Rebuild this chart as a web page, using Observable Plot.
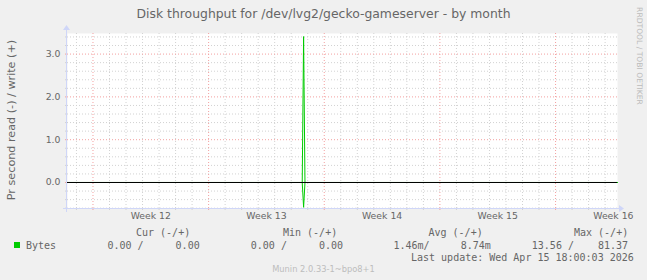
<!DOCTYPE html>
<html>
<head>
<meta charset="utf-8">
<script src="https://cdn.jsdelivr.net/npm/d3@7"></script>
<script src="https://cdn.jsdelivr.net/npm/@observablehq/plot@0.6"></script>
<style>
  html, body { margin: 0; padding: 0; background: #f0f0f0; }
  #wrap { position: relative; width: 647px; height: 280px; overflow: hidden; background: #f0f0f0; }
  #chart { position: absolute; left: 0; top: 0; }
  .t { position: absolute; white-space: pre; color: #666; }
  .mono { font-family: "DejaVu Sans Mono", monospace; font-size: 10px; line-height: 12px; }
</style>
</head>
<body>
<div id="wrap">
  <div id="chart"></div>
</div>
<script>
// ---- data ----
const titleText = "Disk throughput for /dev/lvg2/gecko-gameserver - by month";
const yLabel = "Pr second read (-) / write (+)";
const sideText = "RRDTOOL / TOBI OETIKER";
const footerText = "Munin 2.0.33-1~bpo8+1";
const lastUpdate = "Last update: Wed Apr 15 18:00:03 2026";

const domainTimes = ["2026-03-13T11:00:00Z", "2026-04-15T18:00:00Z"];
const yDomain = [-0.6075, 3.481];
const sampleTimes = ["2026-03-13T11:00:00Z", "2026-03-27T16:00:00Z", "2026-03-27T18:00:00Z", "2026-03-27T20:00:00Z", "2026-04-15T18:00:00Z"];
const writeValues = [0, 0, 3.41, 0, 0];
const readValues  = [0, 0, 0.58, 0, 0];

const weekLabelTimes = ["2026-03-18T12:00:00Z", "2026-03-25T12:00:00Z", "2026-04-01T12:00:00Z", "2026-04-08T12:00:00Z", "2026-04-15T12:00:00Z"];
const weekLabels = ["Week 12", "Week 13", "Week 14", "Week 15", "Week 16"];
const yMajorTicks = [0, 1, 2, 3];
const yMinorTicks = [-0.6, -0.4, -0.2, 0.2, 0.4, 0.6, 0.8, 1.2, 1.4, 1.6, 1.8, 2.2, 2.4, 2.6, 2.8, 3.2, 3.4];

const legendName = "Bytes";
const legendHeaders = ["Cur (-/+)", "Min (-/+)", "Avg (-/+)", "Max (-/+)"];
const legendValues = ["0.00 /", "0.00", "0.00 /", "0.00", "1.46m/", "8.74m", "13.56 /", "81.37"];
const lineColor = "#00cc00";

// ---- build ----
const P = (s) => new Date(s);
const rows = sampleTimes.map((t, i) => ({ t: P(t), w: writeValues[i], r: -readValues[i] }));
const xDomain = domainTimes.map(P);
const dayTicks = d3.utcDay.range(xDomain[0], xDomain[1]).filter(d => d.getUTCDay() !== 0);
const weekTicks = d3.utcSunday.range(xDomain[0], xDomain[1]);

const mL = 67, mR = 30, mT = 33, mB = 72, W = 647, H = 280;
const gridColor = "#d2d2d2";
const mgridColor = "#f3a0a0";

const chart = Plot.plot({
  width: W, height: H,
  marginLeft: mL, marginRight: mR, marginTop: mT, marginBottom: mB,
  style: { background: "transparent", fontFamily: "DejaVu Sans", fontSize: "9.3px", color: "#666" },
  x: { type: "utc", domain: xDomain },
  y: { domain: yDomain },
  marks: [
    Plot.frame({ fill: "white", stroke: null }),
    Plot.gridY({ ticks: yMinorTicks, stroke: gridColor, strokeOpacity: 1, strokeDasharray: "1,2" }),
    Plot.gridX({ ticks: dayTicks, stroke: gridColor, strokeOpacity: 1, strokeDasharray: "1,2" }),
    Plot.gridY({ ticks: yMajorTicks, stroke: mgridColor, strokeOpacity: 1, strokeDasharray: "1,2" }),
    Plot.gridX({ ticks: weekTicks, stroke: mgridColor, strokeOpacity: 1, strokeDasharray: "1,2" }),
    // small outside ticks
    Plot.axisX({ ticks: dayTicks, tickSize: 2, tickFormat: () => "", stroke: gridColor, label: null }),
    Plot.axisX({ ticks: weekTicks, tickSize: 2, tickFormat: () => "", stroke: mgridColor, label: null }),
    Plot.axisY({ ticks: yMinorTicks, tickSize: 2, tickFormat: () => "", stroke: gridColor, label: null }),
    Plot.axisY({ ticks: yMajorTicks, tickSize: 2, tickFormat: () => "", stroke: mgridColor, label: null }),
    // labels
    Plot.axisX({ ticks: weekLabelTimes.map(P), tickSize: 0, tickPadding: 4, tickFormat: (d, i) => weekLabels[i], label: null, fill: "#666" }),
    Plot.axisY({ ticks: yMajorTicks, tickSize: 0, tickPadding: 7, tickFormat: d3.format(".1f"), label: null, fill: "#666" }),
    // data
    Plot.line(rows, { x: "t", y: "r", stroke: lineColor, strokeWidth: 1 }),
    Plot.line(rows, { x: "t", y: "w", stroke: lineColor, strokeWidth: 1 }),
    Plot.ruleY([0], { stroke: "#000", strokeWidth: 1 })
  ]
});
document.getElementById("chart").appendChild(chart);

// axis lines with arrows
const svg = d3.select(chart);
const axisCol = "#cfd6f8";
const xL = mL, xR = W - mR, yB = H - mB, yT = mT;
const g = svg.append("g");
g.append("line").attr("x1", xL - 4).attr("x2", xR + 3).attr("y1", yB + 0.5).attr("y2", yB + 0.5).attr("stroke", axisCol);
g.append("line").attr("x1", xL - 0.5).attr("x2", xL - 0.5).attr("y1", yB + 4).attr("y2", yT - 4).attr("stroke", axisCol);
g.append("path").attr("d", `M${xR + 7},${yB + 0.5} L${xR + 2},${yB - 3} L${xR + 2},${yB + 4} Z`).attr("fill", axisCol);
g.append("path").attr("d", `M${xL - 0.5},${yT - 8} L${xL - 4},${yT - 3} L${xL + 3},${yT - 3} Z`).attr("fill", axisCol);

// texts
const wrap = document.getElementById("wrap");
function addText(txt, css, cls) {
  const d = document.createElement("div");
  d.className = "t " + (cls || "");
  d.textContent = txt;
  Object.assign(d.style, css);
  wrap.appendChild(d);
  return d;
}
addText(titleText, { left: "0px", width: W + "px", textAlign: "center", top: "5px", fontFamily: "DejaVu Sans", fontSize: "12.4px", lineHeight: "17px" });
addText(yLabel, { left: "10.5px", top: "120px", fontFamily: "DejaVu Sans", fontSize: "11.2px", lineHeight: "13px", transform: "translate(-50%,-50%) rotate(-90deg)" });
addText(sideText, { left: "639px", top: "56px", fontFamily: "DejaVu Sans", fontSize: "7.6px", lineHeight: "8px", color: "#bbbbbb", transform: "translate(-50%,-50%) rotate(90deg)" });

const headerX = [136, 283, 428.5, 574];
legendHeaders.forEach((h, i) => addText(h, { left: headerX[i] + "px", top: "227px" }, "mono"));
const valueX = [107.4, 175.6, 250.8, 319, 393.4, 460.7, 531.8, 598];
legendValues.forEach((v, i) => addText(v, { left: valueX[i] + "px", top: "240px" }, "mono"));
addText(legendName, { left: "26px", top: "240px" }, "mono");
const sq = document.createElement("div");
Object.assign(sq.style, { position: "absolute", left: "14px", top: "242px", width: "6px", height: "6px", background: lineColor });
wrap.appendChild(sq);
addText(lastUpdate, { left: "411px", top: "252px" }, "mono");
addText(footerText, { left: "0px", width: W + "px", textAlign: "center", top: "264px", fontFamily: "DejaVu Sans", fontSize: "8.3px", lineHeight: "10px", color: "#bdbdbd" });
</script>
</body>
</html>
